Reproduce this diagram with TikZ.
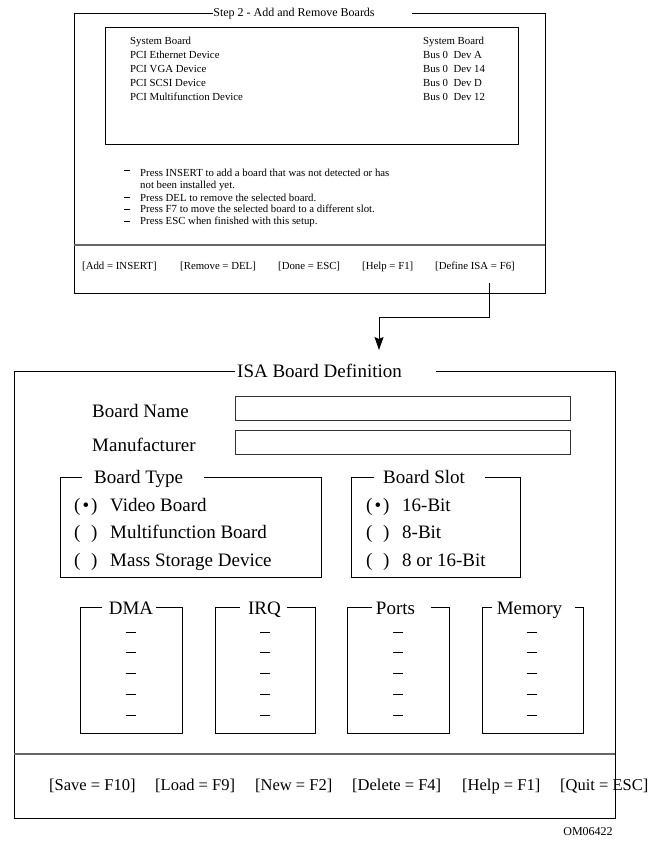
\documentclass[tikz,border=0pt]{standalone}
\usepackage{fontspec}
\setmainfont{Liberation Serif}
\usetikzlibrary{arrows.meta}
\tikzset{
  frame/.style={line width=0.9pt, black},
  sepline/.style={line width=1.4pt, black!60},
  field/.style={line width=0.9pt, black!80},
  dashmark/.style={line width=0.8pt, black},
  txt/.style={inner sep=0pt, anchor=base west},
  ctxt/.style={inner sep=0pt, anchor=base},
  fA/.style={font=\fontsize{10.8pt}{13pt}\selectfont},
  fT/.style={font=\fontsize{12pt}{14pt}\selectfont},
  fB/.style={font=\fontsize{19pt}{22pt}\selectfont},
  fF/.style={font=\fontsize{16.5pt}{19pt}\selectfont},
  arrowline/.style={line width=1pt, -{Stealth[length=13pt,width=9pt,inset=2pt]}},
}
\newcommand{\radioon}{(\hspace{2pt}\textbullet\hspace{2pt})}
\newcommand{\radiooff}{(\hspace{2pt}\phantom{\textbullet}\hspace{2pt})}
\begin{document}
\begin{tikzpicture}[x=1pt,y=-1pt]
\useasboundingbox (0,0) rectangle (650,845);
% ---------- Top window ----------
\node[ctxt,fT] (steptitle) at (294,17) {Step 2 - Add and Remove Boards};
\draw[frame] (213,13) -- (74,13) -- (74,293) -- (545,293) -- (545,13) -- (412,13);
\draw[frame] (105,27) rectangle (518,144);
\node[txt,fA] (r1l) at (130,44.5) {System Board};
\node[txt,fA] (r2l) at (130,58.5) {PCI Ethernet Device};
\node[txt,fA] (r3l) at (130,72.5) {PCI VGA Device};
\node[txt,fA] (r4l) at (130,86.5) {PCI SCSI Device};
\node[txt,fA] (r5l) at (130,101) {PCI Multifunction Device};
\node[txt,fA] (r1r) at (423,44.5) {System Board};
\node[txt,fA] (r2r) at (423,58.5) {Bus 0\ \ Dev A};
\node[txt,fA] (r3r) at (423,72.5) {Bus 0\ \ Dev 14};
\node[txt,fA] (r4r) at (423,86.5) {Bus 0\ \ Dev D};
\node[txt,fA] (r5r) at (423,101) {Bus 0\ \ Dev 12};
% instructions
\draw[dashmark] (124,170) -- (130,170);
\draw[dashmark] (124,197.5) -- (130,197.5);
\draw[dashmark] (124,209) -- (130,209);
\draw[dashmark] (124,221) -- (130,221);
\node[txt,fA] (i1) at (140,177) {Press INSERT to add a board that was not detected or has};
\node[txt,fA] (i2) at (140,189) {not been installed yet.};
\node[txt,fA] (i3) at (140,201) {Press DEL to remove the selected board.};
\node[txt,fA] (i4) at (140,212.5) {Press F7 to move the selected board to a different slot.};
\node[txt,fA] (i5) at (140,224.5) {Press ESC when finished with this setup.};
\draw[sepline] (74,245) -- (545,245);
\node[txt,fA] (k1) at (82,269) {[Add = INSERT]};
\node[txt,fA] (k2) at (180,269) {[Remove = DEL]};
\node[txt,fA] (k3) at (278,269) {[Done = ESC]};
\node[txt,fA] (k4) at (362,269) {[Help = F1]};
\node[txt,fA] (k5) at (435,269) {[Define ISA = F6]};
% ---------- connector ----------
\coordinate (src) at (489,283);
\coordinate (dst) at (379,350);
\draw[arrowline] (src) -- (489,317) -| (dst);
% ---------- ISA window ----------
\node[txt,fB] (isatitle) at (237,377) {ISA Board Definition};
\draw[frame] (235,371) -- (14,371) -- (14,818) -- (615,818) -- (615,371) -- (436,371);
\node[txt,fB] (bname) at (92,417) {Board Name};
\node[txt,fB] (manu) at (92,451) {Manufacturer};
\draw[field] (235,396) rectangle (570,420);
\draw[field] (235,430) rectangle (570,454);
% Board Type
\node[txt,fB] (btype) at (94,483) {Board Type};
\draw[frame] (82,477) -- (60,477) -- (60,577) -- (321,577) -- (321,477) -- (204,477);
\node[txt,fB] (bt1p) at (74,511) {\radioon};
\node[txt,fB] (bt2p) at (74,538) {\radiooff};
\node[txt,fB] (bt3p) at (74,566) {\radiooff};
\node[txt,fB] (bt1) at (110,511) {Video Board};
\node[txt,fB] (bt2) at (110,538) {Multifunction Board};
\node[txt,fB] (bt3) at (110,566) {Mass Storage Device};
% Board Slot
\node[txt,fB] (bslot) at (383,483) {Board Slot};
\draw[frame] (374,477) -- (351,477) -- (351,577) -- (520,577) -- (520,477) -- (485,477);
\node[txt,fB] (bs1p) at (366,511) {\radioon};
\node[txt,fB] (bs2p) at (366,538) {\radiooff};
\node[txt,fB] (bs3p) at (366,566) {\radiooff};
\node[txt,fB] (bs1) at (402,511) {16-Bit};
\node[txt,fB] (bs2) at (402,538) {8-Bit};
\node[txt,fB] (bs3) at (402,566) {8 or 16-Bit};
% resource boxes
\node[ctxt,fB] (dma) at (131,614) {DMA};
\draw[frame] (102,607) -- (80,607) -- (80,733) -- (182,733) -- (182,607) -- (156,607);
\node[ctxt,fB] (irq) at (264.5,614) {IRQ};
\draw[frame] (240,607) -- (215,607) -- (215,733) -- (315,733) -- (315,607) -- (287,607);
\node[ctxt,fB] (ports) at (395.5,614) {Ports};
\draw[frame] (372,607) -- (347,607) -- (347,733) -- (449,733) -- (449,607) -- (431,607);
\node[ctxt,fB] (mem) at (529.5,614) {Memory};
\draw[frame] (492,607) -- (482,607) -- (482,733) -- (583,733) -- (583,607) -- (575,607);
\foreach \cx in {131,265,398,532}{
  \foreach \dy in {632,652.5,673,694,715}{
    \draw[dashmark] (\cx-5,\dy) -- (\cx+5,\dy);
  }
}
\draw[sepline] (14,754) -- (615,754);
\node[txt,fF] (f1) at (49,790) {[Save = F10]};
\node[txt,fF] (f2) at (155,790) {[Load = F9]};
\node[txt,fF] (f3) at (255,790) {[New = F2]};
\node[txt,fF] (f4) at (352,790) {[Delete = F4]};
\node[txt,fF] (f5) at (462,790) {[Help = F1]};
\node[txt,fF] (f6) at (560,790) {[Quit = ESC]};
\node[ctxt,fT] (om) at (588,835) {OM06422};
\end{tikzpicture}
\end{document}
